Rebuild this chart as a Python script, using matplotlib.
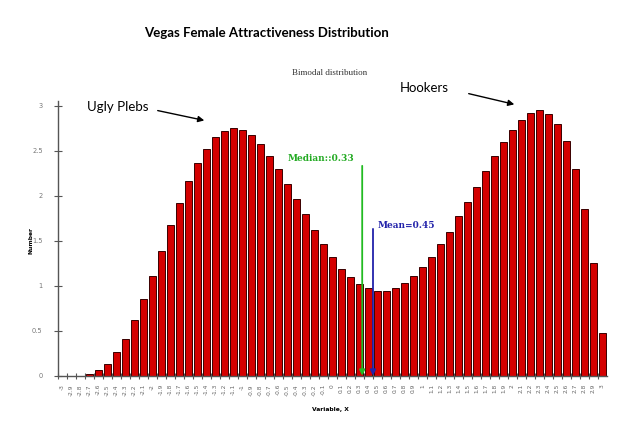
import matplotlib
matplotlib.use("Agg")
import matplotlib.pyplot as plt
import numpy as np

# ---- data ----
tick_labels = ["-3", "-2.9", "-2.8", "-2.7", "-2.6", "-2.5", "-2.4", "-2.3", "-2.2", "-2.1",
               "-2", "-1.9", "-1.8", "-1.7", "-1.6", "-1.5", "-1.4", "-1.3", "-1.2", "-1.1",
               "-1", "-0.9", "-0.8", "-0.7", "-0.6", "-0.5", "-0.4", "-0.3", "-0.2", "-0.1",
               "0", "0.1", "0.2", "0.3", "0.4", "0.5", "0.6", "0.7", "0.8", "0.9",
               "1", "1.1", "1.2", "1.3", "1.4", "1.5", "1.6", "1.7", "1.8", "1.9",
               "2", "2.1", "2.2", "2.3", "2.4", "2.5", "2.6", "2.7", "2.8", "2.9", "3"]
counts = [0.0, 0.0, 0.0, 0.02, 0.06, 0.13, 0.26, 0.41, 0.62, 0.85,
          1.11, 1.39, 1.67, 1.92, 2.16, 2.36, 2.52, 2.65, 2.72, 2.75,
          2.73, 2.67, 2.57, 2.44, 2.29, 2.13, 1.96, 1.79, 1.62, 1.46,
          1.32, 1.19, 1.10, 1.02, 0.97, 0.94, 0.94, 0.97, 1.03, 1.11,
          1.21, 1.32, 1.46, 1.60, 1.77, 1.93, 2.10, 2.27, 2.44, 2.59,
          2.73, 2.84, 2.92, 2.95, 2.91, 2.80, 2.61, 2.30, 1.85, 1.25, 0.47]
y_ticks = [0, 0.5, 1, 1.5, 2, 2.5, 3]
y_tick_labels = ["0", "0.5", "1", "1.5", "2", "2.5", "3"]
median_value = 0.33
mean_value = 0.45

x_vals = [float(t) for t in tick_labels]

W, H = 640, 446
fig = plt.figure(figsize=(W / 100, H / 100), dpi=100)
fig.patch.set_facecolor("white")

def fx(px):
    return px / W

def fy(py):
    return 1 - py / H

ax = fig.add_axes([fx(58), fy(375.7), fx(607) - fx(58), (375.7 - 101) / H])
ax.bar(x_vals, counts, width=0.07, color="#d40000", edgecolor="#3a0000", linewidth=0.7, zorder=2)
ax.set_xlim(-3.05, 3.05)
ax.set_ylim(0, 3.05)

for s in ["top", "right"]:
    ax.spines[s].set_visible(False)
for s in ["left", "bottom"]:
    ax.spines[s].set_color("#555555")
    ax.spines[s].set_linewidth(1.0)

ax.set_xticks(x_vals)
ax.set_xticklabels(tick_labels, rotation=90, fontsize=4.2, color="#666666",
                   family="DejaVu Sans")
ax.tick_params(axis="x", which="major", length=0, pad=6)
edges = [v - 0.05 for v in x_vals]
ax.set_xticks(edges, minor=True)
ax.tick_params(axis="x", which="minor", length=5, direction="inout", color="#555555", width=0.8)

ax.set_yticks(y_ticks)
ax.set_yticklabels(y_tick_labels, fontsize=4.8, color="#777777")
ax.tick_params(axis="y", length=6, direction="inout", color="#555555", width=0.8, pad=8)

# median and mean arrows
ax.annotate("", xy=(median_value, 0.0), xytext=(median_value, 2.33),
            arrowprops=dict(arrowstyle="-|>", color="#22bb22", lw=1.3, mutation_scale=8,
                            shrinkA=0, shrinkB=0), zorder=5)
ax.text(-0.5, 2.36, "Median::0.33", color="#22aa22", fontsize=6.5, fontweight="bold",
        family="DejaVu Serif", ha="left", va="bottom")
ax.annotate("", xy=(mean_value, 0.0), xytext=(mean_value, 1.63),
            arrowprops=dict(arrowstyle="-|>", color="#2222aa", lw=1.3, mutation_scale=8,
                            shrinkA=0, shrinkB=0), zorder=5)
ax.text(0.50, 1.62, "Mean=0.45", color="#2222aa", fontsize=6.5, fontweight="bold",
        family="DejaVu Serif", ha="left", va="bottom")

# titles and labels
fig.text(fx(266), fy(33), "Vegas Female Attractiveness Distribution", fontsize=9.5,
         fontweight="bold", family="Lato", ha="center", va="center")
fig.text(fx(330), fy(73), "Bimodal distribution", fontsize=6.5, family="Liberation Serif",
         color="#333333", ha="center", va="center")
fig.text(fx(31), fy(240), "Number", fontsize=4.3, fontweight="bold", rotation=90,
         ha="center", va="center")
fig.text(fx(312), fy(409), "Variable, X", fontsize=4.3, fontweight="bold",
         ha="left", va="center")

fig.text(fx(87), fy(107), "Ugly Plebs", fontsize=9.5, family="Lato", ha="left", va="center")
fig.text(fx(424), fy(88), "Hookers", fontsize=9.5, family="Lato", ha="center", va="center")

fig.add_artist(matplotlib.patches.FancyArrowPatch(
    (155, H - 110), (207, H - 121), transform=None,
    arrowstyle="-|>", mutation_scale=9, color="black", lw=1.0))
fig.add_artist(matplotlib.patches.FancyArrowPatch(
    (466, H - 93), (517, H - 105), transform=None,
    arrowstyle="-|>", mutation_scale=9, color="black", lw=1.0))

fig.savefig("out.png", dpi=100, facecolor="white")
